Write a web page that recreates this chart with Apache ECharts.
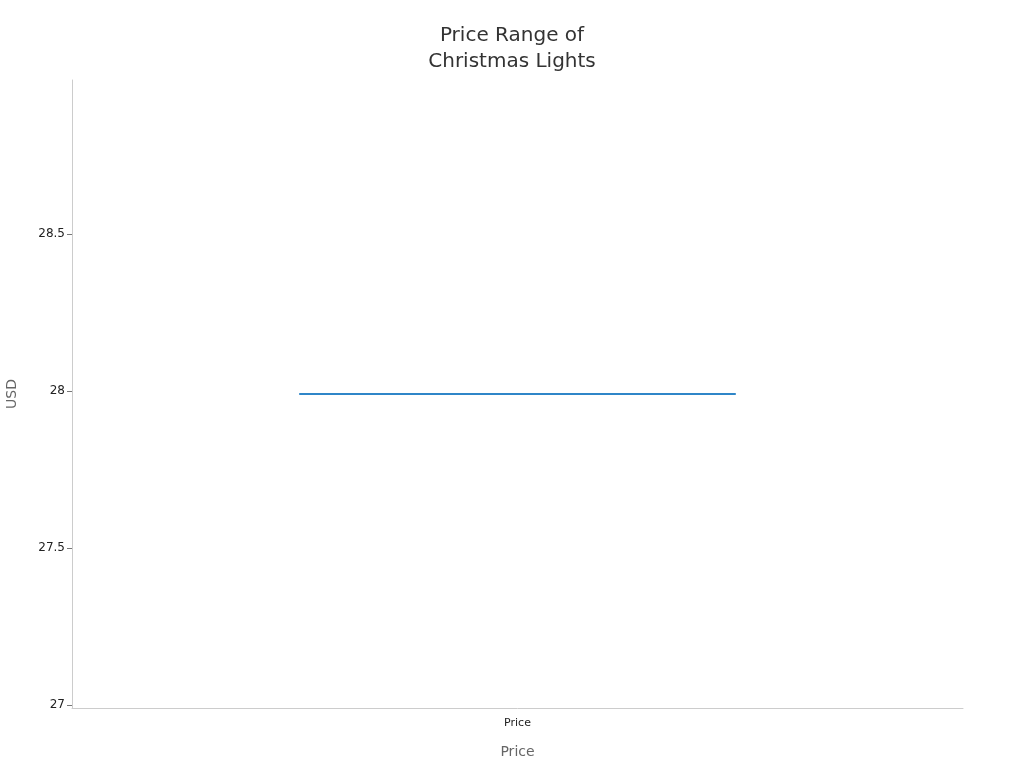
<!DOCTYPE html>
<html>
<head>
<meta charset="utf-8">
<title>Price Range of Christmas Lights</title>
<script src="https://cdn.jsdelivr.net/npm/echarts@6/dist/echarts.min.js"></script>
<style>
    html, body { margin: 0; padding: 0; background: #fff; }
    #chart { width: 1024px; height: 768px; }
</style>
</head>
<body>
<div id="chart"></div>
<script>
var categories = ['Price'];
var lowValues = [27.99];
var q1Values = [27.99];
var medianValues = [27.99];
var q3Values = [27.99];
var highValues = [27.99];
var tickValues = [27, 27.5, 28, 28.5];

var boxData = categories.map(function (name, i) {
    return [lowValues[i], q1Values[i], medianValues[i], q3Values[i], highValues[i]];
});

var myChart = echarts.init(document.getElementById('chart'));
var option = {
    backgroundColor: '#ffffff',
    textStyle: { fontFamily: 'DejaVu Sans' },
    title: {
        text: 'Price Range of\nChristmas Lights',
        left: 'center',
        top: 18,
        textStyle: {
            fontSize: 20,
            fontWeight: 'normal',
            color: '#333',
            lineHeight: 26,
            fontFamily: 'DejaVu Sans'
        }
    },
    grid: {
        left: 72,
        right: 61,
        top: 80,
        bottom: 60,
        containLabel: false,
        outerBoundsMode: 'none'
    },
    xAxis: {
        type: 'category',
        data: categories,
        name: 'Price',
        nameLocation: 'middle',
        nameGap: 37,
        nameTextStyle: { color: '#666', fontSize: 14 },
        axisLine: { lineStyle: { color: '#ccc' } },
        axisTick: { alignWithLabel: true, length: 5, lineStyle: { color: '#333' } },
        axisLabel: { color: '#222', fontSize: 11, margin: 10 },
        splitLine: { show: false }
    },
    yAxis: {
        type: 'value',
        min: 26.99,
        max: 28.99,
        name: 'USD',
        nameLocation: 'middle',
        nameGap: 53,
        nameTextStyle: { color: '#666', fontSize: 14 },
        axisLine: { show: true, lineStyle: { color: '#ccc' } },
        axisTick: { show: true, length: 5, customValues: tickValues, lineStyle: { color: '#777' } },
        axisLabel: { color: '#222', fontSize: 12, margin: 7, customValues: tickValues },
        splitLine: { show: false }
    },
    series: [
        {
            name: 'Price',
            type: 'boxplot',
            boxWidth: ['49%', '49%'],
            itemStyle: {
                color: '#ffffff',
                borderColor: '#2f86c8',
                borderWidth: 2
            },
            data: boxData
        }
    ]
};
myChart.setOption(option);
</script>
</body>
</html>
